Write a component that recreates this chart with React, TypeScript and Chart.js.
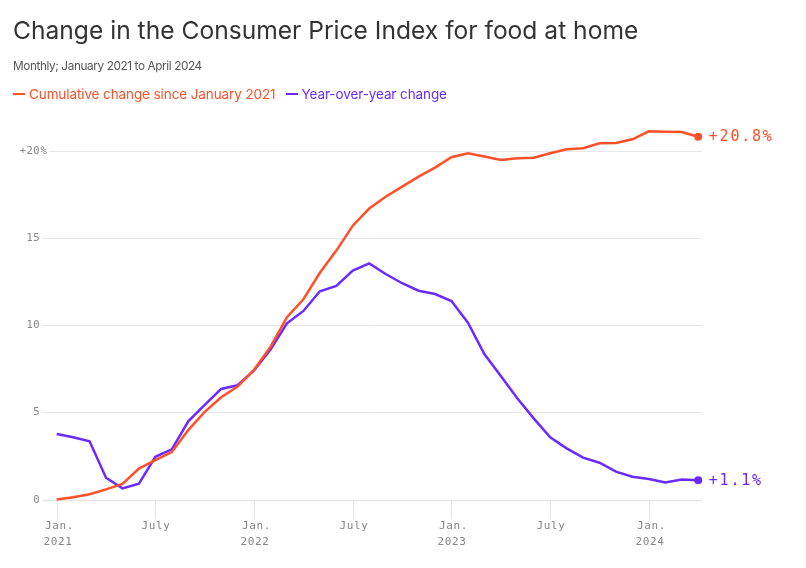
import React, { useEffect, useRef } from "react";
import { Chart, registerables } from "chart.js";

Chart.register(...registerables);

const monthLabels: string[] = [
  "Jan 2021","Feb 2021","Mar 2021","Apr 2021","May 2021","Jun 2021","Jul 2021","Aug 2021","Sep 2021","Oct 2021","Nov 2021","Dec 2021",
  "Jan 2022","Feb 2022","Mar 2022","Apr 2022","May 2022","Jun 2022","Jul 2022","Aug 2022","Sep 2022","Oct 2022","Nov 2022","Dec 2022",
  "Jan 2023","Feb 2023","Mar 2023","Apr 2023","May 2023","Jun 2023","Jul 2023","Aug 2023","Sep 2023","Oct 2023","Nov 2023","Dec 2023",
  "Jan 2024","Feb 2024","Mar 2024","Apr 2024",
];

const cumulativeChange: number[] = [
  0, 0.13, 0.3, 0.58, 0.89, 1.77, 2.26, 2.72, 3.98, 5.03, 5.86, 6.47,
  7.44, 8.76, 10.45, 11.48, 13.0, 14.27, 15.7, 16.68, 17.36, 17.94, 18.51, 19.03,
  19.62, 19.85, 19.66, 19.47, 19.56, 19.6, 19.85, 20.08, 20.14, 20.42, 20.44, 20.65,
  21.11, 21.09, 21.07, 20.8,
];

const yearOverYear: number[] = [
  3.76, 3.57, 3.34, 1.25, 0.64, 0.91, 2.45, 2.88, 4.48, 5.42, 6.34, 6.55,
  7.4, 8.6, 10.1, 10.81, 11.94, 12.24, 13.12, 13.54, 12.93, 12.4, 11.97, 11.78,
  11.38, 10.14, 8.34, 7.08, 5.8, 4.65, 3.57, 2.93, 2.4, 2.11, 1.6, 1.31,
  1.18, 0.98, 1.14, 1.1,
];

const xTickIndexes: number[] = [0, 6, 12, 18, 24, 30, 36];
const xTickLine1: string[] = ["Jan.", "July", "Jan.", "July", "Jan.", "July", "Jan."];
const xTickLine2: string[] = ["2021", "", "2022", "", "2023", "", "2024"];
const yTicks: number[] = [0, 5, 10, 15, 20];
const yTickLabels: string[] = ["0", "5", "10", "15", "+20"];
const endLabels: string[] = ["+20.8%", "+1.1%"];

const ORANGE = "#ff5029";
const PURPLE = "#6a2bff";
const MONO = "'DejaVu Sans Mono', monospace";

const axesPlugin = {
  id: "axiosAxes",
  beforeDatasetsDraw(chart: any) {
    const { ctx, chartArea, scales } = chart;
    const x = scales.x;
    const y = scales.y;
    ctx.save();
    yTicks.forEach((v, i) => {
      const py = Math.round(y.getPixelForValue(v)) + 0.5;
      ctx.strokeStyle = "#e6e6e6";
      ctx.lineWidth = v === 0 ? 1.5 : 1;
      ctx.beginPath();
      const startX = i === yTicks.length - 1 ? chartArea.left + 6.5 : chartArea.left;
      ctx.moveTo(startX, py);
      ctx.lineTo(chartArea.right, py);
      ctx.stroke();
      ctx.font = `10.5px ${MONO}`;
      (ctx as any).letterSpacing = "0.4px";
      ctx.fillStyle = "#858585";
      ctx.textBaseline = "middle";
      ctx.textAlign = "right";
      ctx.fillText(yTickLabels[i], 40, py);
      if (i === yTicks.length - 1) {
        ctx.textAlign = "left";
        ctx.fillText("%", 40.5, py);
      }
    });
    xTickIndexes.forEach((idx, i) => {
      const px = Math.round(x.getPixelForValue(idx)) + 0.5;
      const base = y.getPixelForValue(0);
      ctx.strokeStyle = "#e3e3e3";
      ctx.lineWidth = 1;
      ctx.beginPath();
      ctx.moveTo(px, base + 1);
      ctx.lineTo(px, base + 19);
      ctx.stroke();
      ctx.font = `11px ${MONO}`;
      (ctx as any).letterSpacing = "0.6px";
      ctx.fillStyle = "#858585";
      ctx.textAlign = "center";
      ctx.textBaseline = "middle";
      ctx.fillText(xTickLine1[i], px + (xTickLine1[i] === "Jan." ? 2 : 0.5), base + 27);
      if (xTickLine2[i]) ctx.fillText(xTickLine2[i], px + 0.5, base + 43);
    });
    ctx.restore();
  },
  afterDatasetsDraw(chart: any) {
    const { ctx, scales } = chart;
    const x = scales.x;
    const y = scales.y;
    const last = monthLabels.length - 1;
    ctx.save();
    ctx.font = `15px ${MONO}`;
    (ctx as any).letterSpacing = "1.8px";
    ctx.textAlign = "left";
    ctx.textBaseline = "middle";
    [cumulativeChange, yearOverYear].forEach((series, i) => {
      const px = x.getPixelForValue(last);
      const py = y.getPixelForValue(series[last]);
      ctx.fillStyle = i === 0 ? ORANGE : PURPLE;
      ctx.fillText(endLabels[i], px + 10.5, py + 0.5);
    });
    ctx.restore();
  },
};

export default function App() {
  const canvasRef = useRef<HTMLCanvasElement | null>(null);

  useEffect(() => {
    if (!canvasRef.current) return;
    const toPoints = (arr: number[]) => arr.map((v, i) => ({ x: i, y: v }));
    const last = monthLabels.length - 1;
    const chart = new Chart(canvasRef.current, {
      type: "line",
      data: {
        datasets: [
          {
            label: "Cumulative change since January 2021",
            data: toPoints(cumulativeChange),
            borderColor: ORANGE,
            backgroundColor: ORANGE,
            borderWidth: 2.5,
            pointRadius: (c: any) => (c.dataIndex === last ? 4 : 0),
            pointBorderWidth: 0,
            tension: 0,
          },
          {
            label: "Year-over-year change",
            data: toPoints(yearOverYear),
            borderColor: PURPLE,
            backgroundColor: PURPLE,
            borderWidth: 2.5,
            pointRadius: (c: any) => (c.dataIndex === last ? 4 : 0),
            pointBorderWidth: 0,
            tension: 0,
          },
        ],
      },
      options: {
        responsive: false,
        animation: false,
        layout: { padding: { left: 42.7, right: 104, top: 124.5, bottom: 68.5 } },
        plugins: { legend: { display: false }, tooltip: { enabled: false } },
        scales: {
          x: { type: "linear", min: -0.85, max: 39.23, display: false },
          y: { type: "linear", min: 0, max: 21.5, display: false },
        },
        clip: false as any,
      },
      plugins: [axesPlugin],
    } as any);
    return () => chart.destroy();
  }, []);

  const sans = "Inter, 'Noto Sans', sans-serif";
  return (
    <div style={{ position: "relative", width: 806, height: 568, margin: -8, overflow: "hidden", background: "#fff" }}>
      <canvas ref={canvasRef} width={806} height={568} style={{ position: "absolute", left: 0, top: 0 }} />
      <div style={{ position: "absolute", left: 13, top: 15, fontFamily: sans, fontSize: 24.6, color: "#333", letterSpacing: 0, whiteSpace: "nowrap" }}>
        Change in the Consumer Price Index for food at home
      </div>
      <div style={{ position: "absolute", left: 13, top: 59, fontFamily: sans, fontSize: 11.8, color: "#555", letterSpacing: -0.4, whiteSpace: "nowrap" }}>
        Monthly; January 2021 to April 2024
      </div>
      <div style={{ position: "absolute", left: 13, top: 86, fontFamily: sans, fontSize: 13.5, whiteSpace: "nowrap", display: "flex", alignItems: "center" }}>
        <span style={{ display: "inline-block", width: 12, height: 2.5, background: ORANGE, marginRight: 4 }} />
        <span style={{ color: ORANGE, letterSpacing: -0.1 }}>Cumulative change since January 2021</span>
        <span style={{ display: "inline-block", width: 12, height: 2.5, background: PURPLE, marginLeft: 10, marginRight: 4 }} />
        <span style={{ color: PURPLE, letterSpacing: -0.1 }}>Year-over-year change</span>
      </div>
    </div>
  );
}
